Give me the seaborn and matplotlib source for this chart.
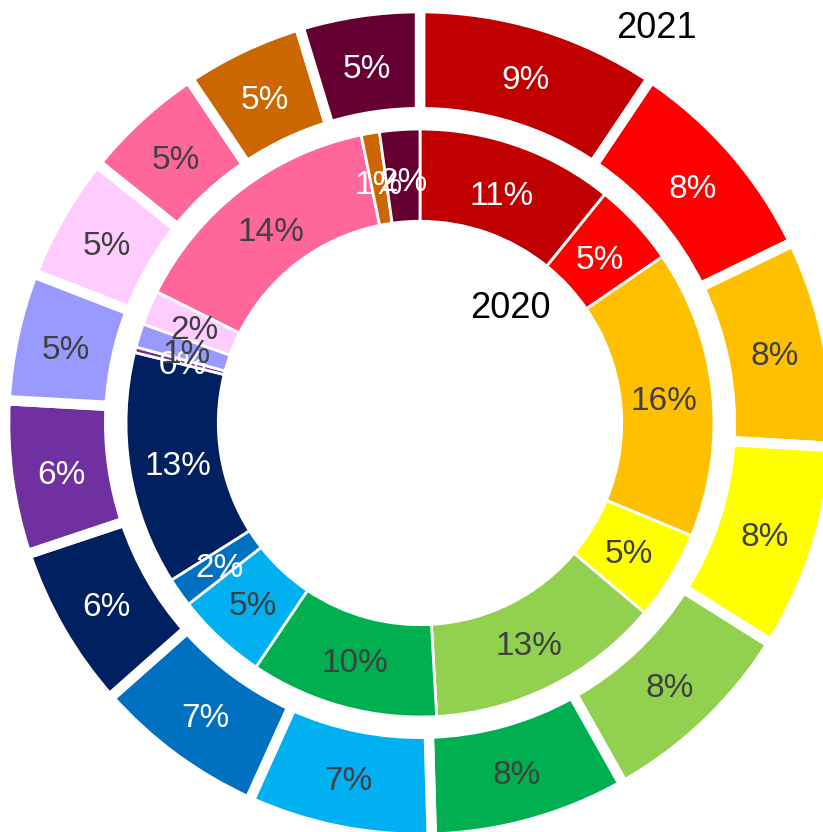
import matplotlib
matplotlib.use("Agg")
import matplotlib.pyplot as plt
import seaborn as sns

# Category colours (shared by both rings), clockwise from 12 o'clock
colors = ["#C00000", "#FF0000", "#FFC000", "#FFFF00", "#92D050", "#00B050",
          "#00B0F0", "#0070C0", "#002060", "#7030A0", "#9999FF", "#FFCCFF",
          "#FF6699", "#CC6600", "#660033"]

# Share of each category (%)
values_2021 = [9.4, 8.4, 8.1, 8.0, 7.9, 7.7, 7.2, 6.7, 6.4, 6.0, 5.0, 4.9, 4.8, 4.7, 4.7]
values_2020 = [10.8, 4.6, 15.8, 4.9, 12.9, 10.3, 5.0, 1.6, 12.8, 0.3, 1.3, 1.9, 14.4, 1.0, 2.2]

# Label text colour per slice: white on dark fills, grey on light fills
text_2021 = ["w", "w", "d", "d", "d", "d", "d", "w", "w", "w", "d", "d", "d", "w", "w"]
text_2020 = ["w", "w", "d", "d", "d", "d", "d", "w", "w", "w", "d", "d", "d", "w", "w"]

ring_labels = ["2020", "2021"]

sns.set_theme(style="white")
plt.rcParams["font.family"] = ["Liberation Sans", "DejaVu Sans"]

palette = sns.color_palette(colors)
DARK = "#404040"

W, H = 823, 832
S = 410.0            # pixels per data unit
cx, cy = 420, 423    # pixel position of the ring centre

fig = plt.figure(figsize=(W / 100, H / 100), dpi=100)
ax = fig.add_axes([0, 0, 1, 1])


def ring(values, radius, width, lw, pctdist, tcolors):
    wedges, _, autotexts = ax.pie(
        values, radius=radius, colors=palette, startangle=90,
        counterclock=False, autopct=lambda p: f"{p:.0f}%",
        pctdistance=pctdist,
        wedgeprops=dict(width=width, edgecolor="white", linewidth=lw),
        textprops=dict(fontsize=24))
    for t, c in zip(autotexts, tcolors):
        t.set_color("white" if c == "w" else DARK)
        # centre the glyphs (not the descender box) on the slice
        x, y = t.get_position()
        t.set_position((x, y - 4 / S))
    return wedges


# outer ring: 2021
ring(values_2021, radius=1.012, width=0.254, lw=7.5, pctdist=0.872, tcolors=text_2021)
# inner ring: 2020
ring(values_2020, radius=0.717, width=0.225, lw=2.0, pctdist=0.833, tcolors=text_2020)

ax.text((656 - cx) / S, (cy - 29) / S, ring_labels[1], fontsize=26,
        color="black", ha="center", va="center")
ax.text((510 - cx) / S, (cy - 309) / S, ring_labels[0], fontsize=26,
        color="black", ha="center", va="center")

ax.set_xlim(-cx / S, (W - cx) / S)
ax.set_ylim(-(H - cy) / S, cy / S)
ax.set_aspect("auto")
ax.axis("off")

fig.savefig("out.png", dpi=100, facecolor="white")
